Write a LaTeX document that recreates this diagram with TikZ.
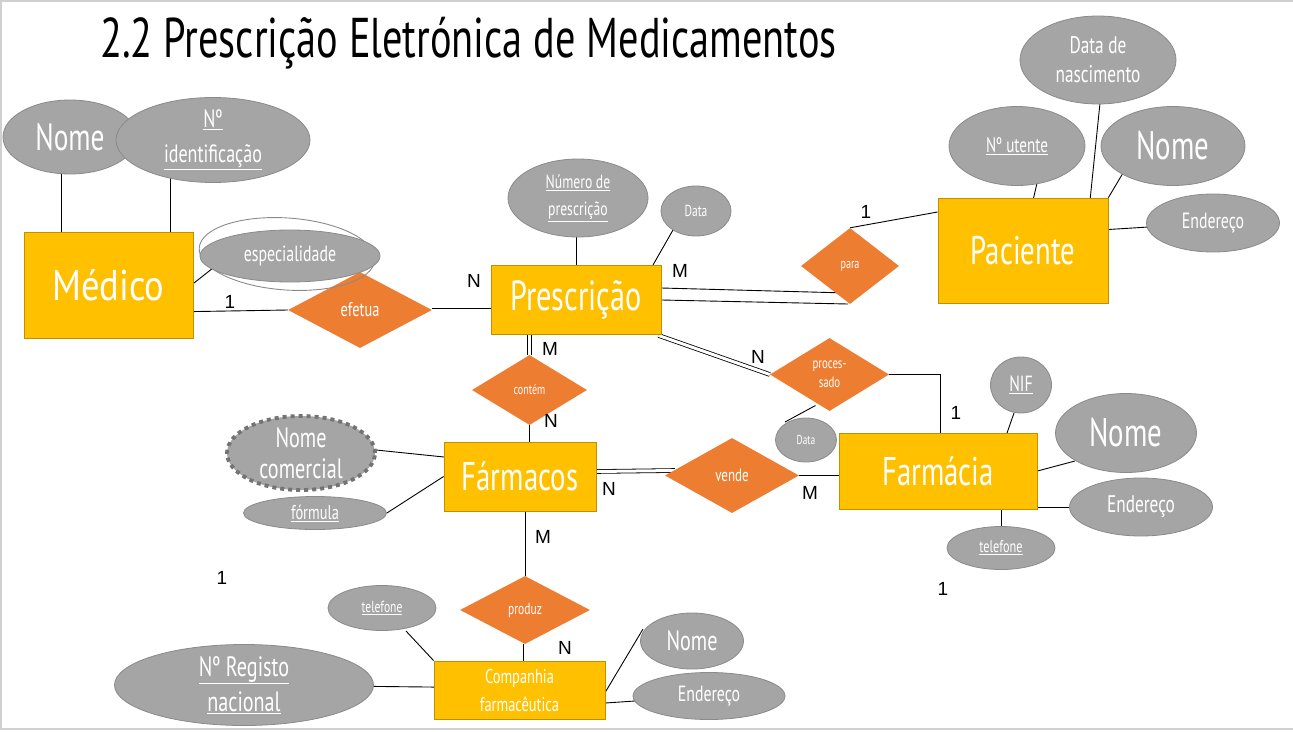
\documentclass[tikz,border=0pt]{standalone}
\usepackage{fontspec}
\setmainfont{PT Sans}[FakeStretch=0.72]
\newfontfamily\agwide{PT Sans}[FakeStretch=0.85]
\newfontfamily\lab{Liberation Sans}
\usetikzlibrary{shapes.geometric,backgrounds,calc}
\definecolor{entfill}{HTML}{FFC000}
\definecolor{entdraw}{HTML}{BF9000}
\definecolor{relfill}{HTML}{ED7D31}
\definecolor{attrfill}{HTML}{A5A5A5}
\definecolor{attrdraw}{HTML}{8A8A8A}
\definecolor{frame}{HTML}{D0D0D0}
\newcommand\fs[2]{\fontsize{#1}{#2}\selectfont}
\begin{document}
\begin{tikzpicture}[x=1pt,y=-1pt,
  ent/.style={rectangle, fill=entfill, draw=entdraw, line width=0.8pt, text=white, inner sep=0pt, align=center},
  rel/.style={diamond, fill=relfill, text=white, inner sep=0pt, align=center},
  attr/.style={ellipse, fill=attrfill, draw=attrdraw, line width=0.8pt, text=white, inner sep=0pt, align=center},
  card/.style={font=\lab\fs{19}{22}, text=black},
  conn/.style={draw=black, line width=0.9pt},
  dbl/.style={draw=black, line width=0.8pt, double=white, double distance=3pt}]
\useasboundingbox (0,0) rectangle (1293,731);
\draw[frame, line width=1.5pt] (1293,1) -- (1,1) -- (1,729) -- (1293,729);

\node[anchor=base west, font=\fs{56}{60}, text=black, inner sep=0pt] (title) at (100,57) {2.2 Prescrição Eletrónica de Medicamentos};

% entities
\node[ent, minimum width=169, minimum height=106, font=\agwide\fs{43}{46}] (med) at (108.5,285) {Médico};
\node[ent, minimum width=170, minimum height=69, font=\fs{42}{46}] (presc) at (576,299.5) {Prescrição};
\node[ent, minimum width=170, minimum height=105, font=\fs{40}{44}] (pac) at (1023,250.5) {Paciente};
\node[ent, minimum width=152, minimum height=69, font=\fs{40}{44}] (fmc) at (520,476.5) {Fármacos};
\node[ent, minimum width=198, minimum height=76, font=\fs{40}{44}] (farm) at (938,471) {Farmácia};
\node[ent, minimum width=171, minimum height=58, font=\fs{20}{28}] (comp) at (519.5,690) {Companhia\\farmacêutica};

% relationships
\node[rel, minimum width=144, minimum height=76, font=\fs{20}{24}] (efe) at (360,310) {efetua};
\node[rel, minimum width=98, minimum height=76, font=\fs{14}{16}] (para) at (850,266) {para};
\node[rel, minimum width=119, minimum height=73, font=\fs{15}{19}] (proc) at (829.5,374.5) {proces-\\sado};
\node[rel, minimum width=115, minimum height=70, font=\fs{14}{16}] (cont) at (529.5,390) {contém};
\node[rel, minimum width=134, minimum height=75, font=\fs{18}{22}] (vende) at (732,475.5) {vende};
\node[rel, minimum width=130, minimum height=68, font=\fs{16}{19}] (prod) at (525,610) {produz};

% attributes
\node[attr, minimum width=134, minimum height=74, font=\fs{38}{42}] (nm1) at (70,137) {Nome};
\node[attr, minimum width=194, minimum height=85, font=\fs{25}{35}] (nid) at (213,140) {\underline{Nº}\\\underline{identificação}};
\draw[attrdraw, line width=0.9pt, rotate around={-4:(287,254)}] (287,254) ellipse [x radius=88, y radius=36];
\node[attr, minimum width=180, minimum height=52, font=\fs{22}{26}] (esp) at (290,256) {especialidade};
\node[attr, minimum width=140, minimum height=78, font=\fs{19}{27}] (num) at (578,198) {\underline{Número de}\\\underline{prescrição}};
\node[attr, minimum width=70, minimum height=50, font=\fs{16}{19}] (dat1) at (696,211) {Data};
\node[attr, minimum width=156, minimum height=88, font=\fs{24}{29}] (dn) at (1098,60) {Data de\\nascimento};
\node[attr, minimum width=136, minimum height=79, font=\fs{21}{25}] (nut) at (1017,146) {\underline{Nº utente}};
\node[attr, minimum width=144, minimum height=79, font=\fs{40}{44}] (nm2) at (1173,146) {Nome};
\node[attr, minimum width=133, minimum height=58, font=\fs{22}{26}] (end2) at (1213,223) {Endereço};
\node[attr, minimum width=61, minimum height=44, font=\fs{13}{16}] (dat2) at (806,440) {Data};
\node[attr, minimum width=61, minimum height=56, font=\fs{22}{26}] (nif) at (1021,385) {\underline{NIF}};
\node[attr, minimum width=141, minimum height=79, font=\fs{40}{44}] (nm3) at (1126,433) {Nome};
\node[attr, minimum width=143, minimum height=58, font=\fs{24}{28}] (end3) at (1141,507) {Endereço};
\node[attr, minimum width=108, minimum height=43, font=\fs{17}{20}] (tel3) at (1001,548) {\underline{telefone}};
\node[attr, draw=black!55, line width=3.8pt, dash pattern=on 4pt off 4pt, minimum width=148, minimum height=74, font=\fs{28}{31}] (ncom) at (301,453) {Nome\\comercial};
\node[attr, minimum width=143, minimum height=33, font=\fs{20}{24}] (form) at (315,513) {\underline{fórmula}};
\node[attr, minimum width=108, minimum height=45, font=\fs{16}{19}] (tel4) at (382,608) {\underline{telefone}};
\node[attr, minimum width=259, minimum height=70, font=\fs{28}{35}] (nreg) at (244,685) {\underline{Nº Registo}\\\underline{nacional}};
\node[attr, minimum width=103, minimum height=56, font=\fs{28}{32}] (nm4) at (692,641) {Nome};
\node[attr, minimum width=152, minimum height=47, font=\fs{22}{26}] (end4) at (709,696) {Endereço};

% connectors
\begin{pgfonlayer}{background}
\draw[conn] ([xshift=-9]nm1.center) -- ([xshift=-47.5]med.center);
\draw[conn] ([xshift=-43]nid.center) -- ([xshift=61.5]med.center);
\draw[conn] ([shift={(-77,12)}]esp.center) -- ([shift={(85.5,-2)}]med.center);
\draw[conn] ([shift={(0,28)}]med.center) -- (efe.west);
\draw[dbl] (efe.east) -- (presc.west |- efe.east);
\draw[conn] (presc.center) -- (presc.center |- num.center);
\draw[conn] ([shift={(-23,19)}]dat1.center) -- ([shift={(77,-34.5)}]presc.center);
\draw[conn] ([shift={(0,-11.5)}]presc.east) -- ([shift={(-3,27)}]para.center);
\draw[conn] ([shift={(0,0.5)}]presc.east) -- ([shift={(-2,38)}]para.center);
\draw[conn] (para.north) -- ([shift={(0,-38.5)}]pac.west);
\draw[dbl] ([shift={(-3,1)}]presc.south east) -- (proc.west);
\draw[conn] (proc.east) -| ([xshift=2]farm.north);
\draw[conn] ([shift={(-14,31)}]proc.center) -- ([shift={(-21,-18)}]dat2.center);
\draw[dbl] (cont.north) -- (cont.north |- presc.south);
\draw[conn] (cont.south) -- (cont.south |- fmc.north);
\draw[conn] ([shift={(75,-3)}]ncom.center) -- ([shift={(-76,-19.5)}]fmc.center);
\draw[conn] (form.east) -- (fmc.west);
\draw[dbl] ([shift={(0,-5)}]fmc.east) -- ([shift={(10,-5)}]vende.west);
\draw[conn] (vende.east) -- (farm.west |- vende.east);
\draw[conn] (prod.north) -- (prod.north |- fmc.south);
\draw[dbl] (prod.south) -- (prod.south |- comp.north);
\draw[conn] ([shift={(20,37)}]nut.center) -- ([shift={(10,-50)}]pac.center);
\draw[conn] ([shift={(2,43)}]dn.center) -- ([shift={(67,-50)}]pac.center);
\draw[conn] ([shift={(-50,27)}]nm2.center) -- (pac.north east);
\draw[conn] (end2.center) -- ([shift={(0,-21)}]pac.east);
\draw[conn] ([shift={(-7,28)}]nif.center) -- ([shift={(69,-38)}]farm.center);
\draw[conn] ([shift={(-51,28)}]nm3.center) -- (farm.east);
\draw[conn] (end3.center) -- ([shift={(0,36)}]farm.east);
\draw[conn] (tel3.center) -- (tel3.center |- farm.south);
\draw[conn] ([shift={(24,23)}]tel4.center) -- (comp.north west);
\draw[conn] (nreg.center) -- ([shift={(0,-2)}]comp.center);
\draw[conn] ([shift={(-49,-12)}]nm4.center) -- ([shift={(0,2)}]comp.east);
\draw[conn] (end4.center) -- ([shift={(0,13)}]comp.east);
\end{pgfonlayer}

% cardinalities
\node[card] (c1) at (230,302) {1};
\node[card] (c2) at (474,281) {N};
\node[card] (c3) at (680,271) {M};
\node[card] (c4) at (866,212) {1};
\node[card] (c5) at (550,349) {M};
\node[card] (c6) at (758,357) {N};
\node[card] (c7) at (956,413) {1};
\node[card] (c8) at (551,421) {N};
\node[card] (c9) at (609,489) {N};
\node[card] (c10) at (810,493) {M};
\node[card] (c11) at (543,537) {M};
\node[card] (c12) at (565,648) {N};
\node[card] (c13) at (222,578) {1};
\node[card] (c14) at (943,589) {1};
\end{tikzpicture}
\end{document}
